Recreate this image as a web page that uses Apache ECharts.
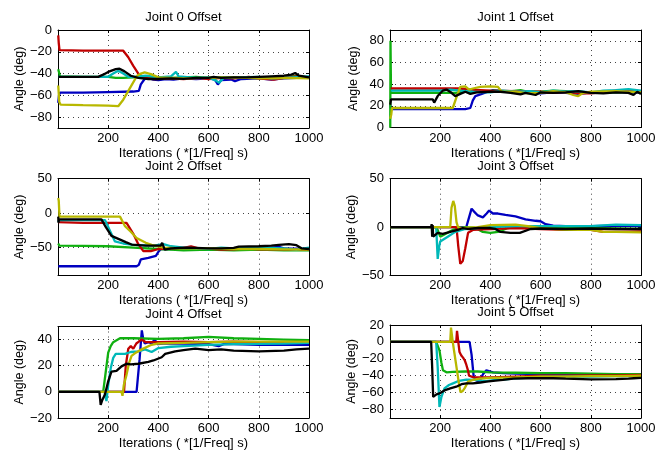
<!DOCTYPE html>
<html>
<head>
<meta charset="utf-8">
<script src="https://cdn.jsdelivr.net/npm/echarts@6/dist/echarts.min.js"></script>
<style>
html, body { margin: 0; padding: 0; background: #fff; }
#chart { width: 665px; height: 451px; }
</style>
</head>
<body>
<div id="chart"></div>
<script>
// joint offsets, [iteration, angle in deg]
const J0_BLUE = [[1,-67],[4,-60],[8,-57.5],[100,-57.5],[200,-57],[300,-56.5],[322,-56],[330,-50],[345,-45],[360,-44],[380,-45.5],[400,-46],[430,-45],[460,-45.5],[500,-44.5],[550,-45],[600,-44.5],[625,-45.5],[637,-50],[650,-46],[690,-45.5],[705,-47],[730,-45],[800,-44.5],[850,-45.5],[900,-44.5],[950,-44],[1000,-43]];
const J0_GREEN = [[1,-36],[4,-36],[8,-42.5],[100,-43],[200,-43],[230,-44],[260,-44],[300,-43.5],[350,-43],[400,-43.5],[450,-44],[500,-43.5],[550,-43],[600,-44],[650,-43.5],[700,-43.5],[750,-44],[800,-44],[850,-43],[900,-44],[950,-42],[1000,-43.5]];
const J0_RED = [[1,-5],[3,-12],[6,-18.5],[100,-19],[260,-19],[280,-25],[300,-33],[320,-40],[340,-43.5],[380,-45],[450,-44.5],[500,-45],[560,-44],[600,-45],[650,-44],[700,-44.5],[760,-43],[800,-44.5],[860,-45.5],[900,-44],[950,-42.5],[1000,-44]];
const J0_CYAN = [[1,-43],[200,-43],[220,-40],[240,-37.5],[260,-40],[280,-43],[300,-43],[350,-42],[400,-43.5],[450,-42.5],[470,-38.5],[480,-42.5],[550,-44],[600,-43.5],[630,-46.5],[642,-48.5],[660,-44],[700,-43.5],[800,-43],[850,-44.5],[900,-44],[1000,-42.5]];
const J0_YELLOW = [[1,-51],[5,-66],[10,-68.5],[100,-69],[200,-69.5],[240,-70],[260,-64],[290,-52],[315,-42],[330,-40],[345,-39],[370,-40.5],[400,-43.5],[450,-44],[500,-44.5],[600,-44],[700,-43.5],[800,-44.5],[900,-44],[1000,-44.5]];
const J0_BLACK = [[1,-43],[160,-43],[180,-41],[200,-38.5],[230,-36],[245,-35.5],[265,-38],[290,-42],[320,-44],[360,-45],[400,-45],[450,-44.5],[500,-44.8],[550,-44],[600,-44],[620,-43],[650,-44],[700,-43.5],[750,-43.5],[800,-43],[850,-42.5],[900,-42],[930,-41],[945,-39.5],[960,-42],[1000,-43.5]];

const J1_BLUE = [[1,21],[4,17],[100,17],[200,17],[300,17],[320,18],[330,25],[340,29],[360,30.5],[390,33],[410,34.5],[450,33.5],[500,32.5],[600,31.5],[650,32.5],[700,32],[750,31],[800,32.5],[900,33],[1000,32]];
const J1_GREEN = [[1,0],[2,80],[3,80],[4,32],[100,32],[200,32],[260,32],[300,33],[350,33],[420,34],[470,33],[520,34.5],[550,33],[600,33],[650,34],[700,33.5],[800,32],[900,32.5],[1000,33]];
const J1_RED = [[3,36],[100,36],[200,36],[280,36],[320,35],[400,34],[500,33.5],[600,33],[650,32],[700,33],[760,31.5],[800,31.5],[900,34],[950,34.5],[1000,33]];
const J1_CYAN = [[3,34],[100,34],[200,34],[240,35],[280,34],[330,33],[400,32.5],[450,34],[500,33],[560,33.5],[600,32.5],[650,34],[700,33],[750,33.5],[800,32.5],[850,34],[900,34.5],[950,35.5],[1000,34]];
const J1_YELLOW = [[1,8],[5,12],[8,18],[100,18],[200,18],[250,18],[265,28],[280,37.5],[300,38],[315,35],[330,36],[360,37.5],[400,38],[430,37.5],[445,33],[500,33],[550,31.5],[600,32],[650,33.5],[700,32.5],[730,30],[750,29],[770,32],[800,33],[900,33.5],[1000,32.5]];
const J1_BLACK = [[1,21],[4,26],[100,26],[170,26],[176,23],[190,29],[210,34],[225,35],[245,32],[260,29],[280,31],[300,33],[320,31],[345,32.5],[400,33],[440,33],[480,32],[520,30.5],[540,32],[580,30],[600,32.5],[650,32],[700,32.5],[750,33.5],[800,32],[850,31.5],[900,32.5],[950,32],[970,30],[985,33],[1000,31]];

const J2_BLUE = [[1,-77],[100,-77],[200,-77],[313,-77],[322,-75],[330,-67],[360,-65],[390,-62],[400,-56],[410,-52],[450,-52],[500,-51],[600,-52],[700,-51],[800,-52],[850,-50],[880,-49],[900,-51],[1000,-52]];
const J2_GREEN = [[1,-44],[5,-47],[100,-47.5],[200,-48],[300,-50],[400,-52],[450,-53],[500,-54],[600,-53],[700,-54],[800,-53],[900,-54],[1000,-54]];
const J2_RED = [[1,-13],[5,-14],[100,-14],[200,-14],[273,-14],[300,-30],[320,-45],[340,-55],[370,-55],[400,-52],[450,-51],[500,-50.5],[530,-48],[560,-51],[600,-51.5],[650,-53],[700,-52.5],[750,-51],[800,-52.5],[900,-52],[1000,-53]];
const J2_CYAN = [[1,-13],[4,-10],[187,-10],[200,-20],[227,-41],[260,-44],[300,-46],[380,-47],[420,-45],[450,-48],[500,-50],[600,-52],[650,-50],[700,-51],[800,-50],[900,-51],[950,-53],[1000,-50]];
const J2_YELLOW = [[1,22],[3,18],[6,-5],[100,-5],[247,-5],[267,-19],[290,-27],[313,-36],[350,-43],[373,-46],[420,-50],[500,-51],[600,-51],[700,-52],[800,-52],[900,-52.5],[1000,-53]];
const J2_BLACK = [[1,-5],[2,-14],[4,-9],[100,-9],[173,-9],[190,-20],[213,-33],[245,-38],[270,-42],[293,-45.5],[350,-47],[387,-47],[410,-47],[415,-43],[425,-53],[450,-51],[500,-50],[550,-50.5],[600,-51],[650,-51],[700,-50.5],[720,-48.5],[800,-48],[850,-47],[880,-46],[920,-45],[950,-46.5],[970,-51],[1000,-52]];

const J3_BLUE = [[1,0],[100,0],[200,0],[304,0],[315,10],[325,19],[335,16],[350,12],[370,10],[385,14],[395,17],[410,14],[430,14],[460,12.5],[500,11],[540,8],[580,6.5],[600,6],[620,3],[650,1.5],[700,1],[800,1],[900,1.5],[1000,1]];
const J3_GREEN = [[1,0],[180,0],[190,-3],[200,-10],[215,-8],[235,-5],[250,-3],[280,-1],[300,0],[340,-1],[370,-5],[400,-6],[430,-5],[470,-1],[500,0],[600,0],[700,-1],[800,-1],[900,-1.5],[1000,-2]];
const J3_RED = [[1,0],[200,0],[265,0],[272,-20],[280,-38],[290,-35],[300,-22],[311,-6],[330,-3],[400,-2],[500,-1],[600,-2],[700,-3],[800,-3],[850,-5],[900,-5],[1000,-4.5]];
const J3_CYAN = [[1,0],[184,0],[190,-33],[196,-20],[200,-15],[230,-10],[260,-5],[300,-2],[400,0],[500,1],[600,1],[700,1],[800,1],[900,2.5],[1000,2]];
const J3_YELLOW = [[1,0],[240,0],[245,20],[252,27],[258,22],[265,5],[271,0],[290,-1],[350,0],[400,2],[500,2.5],[550,1],[600,-1],[700,-3],[800,-3],[850,-5],[900,-5],[1000,-5.5]];
const J3_BLACK = [[1,0],[164,0],[166,3],[168,-10],[170,2],[172,-10],[176,-8],[190,-6],[210,-7],[240,-5],[270,-3],[290,-1],[310,-2],[350,-1],[400,-1],[420,-2],[440,-5],[480,-6],[517,-6],[560,-2],[600,-1.5],[700,-2],[800,-1.5],[900,-2],[1000,-2]];

const J4_BLUE = [[1,0],[100,0],[200,0],[313,0],[325,25],[334,47],[340,40],[346,37],[360,38],[375,37],[385,40.5],[395,36.5],[420,37],[500,37],[600,36.5],[640,35],[660,36.5],[700,36.5],[800,36],[900,36],[1000,36]];
const J4_GREEN = [[1,0],[180,0],[190,15],[200,30],[210,35],[220,38],[247,41],[300,41],[400,40.5],[500,41],[600,42],[700,41],[800,40.5],[900,40],[1000,39.5]];
const J4_RED = [[1,0],[263,0],[270,20],[280,33],[290,35],[300,33],[312,37],[322,38.5],[333,40],[350,38],[400,38],[500,38.5],[600,38],[700,38.5],[800,38],[900,38],[1000,38]];
const J4_CYAN = [[1,0],[185,0],[193,-7],[200,5],[210,18],[220,26],[230,29],[267,29],[290,30.5],[320,31],[347,32.5],[373,30.5],[400,33.5],[450,34.5],[500,35],[600,36],[700,36.5],[800,36.7],[900,37],[1000,37.5]];
const J4_YELLOW = [[1,0],[253,0],[257,-3],[262,5],[273,13],[283,22],[293,27.5],[310,30],[333,32.5],[373,36],[400,37],[500,37.5],[600,38],[700,38.5],[800,38.5],[900,38.5],[1000,38.5]];
const J4_BLACK = [[1,0],[165,0],[170,-10],[177,-6],[187,-2],[200,8],[213,15.5],[233,16],[253,19.5],[273,21.5],[290,21],[320,21.5],[360,23],[380,24],[413,26.5],[427,29],[467,31],[500,32],[547,33],[600,32],[650,32.5],[700,31.5],[800,31],[900,31.5],[950,32.5],[1000,33]];

const J5_BLUE = [[1,0],[100,0],[200,0],[317,0],[325,-15],[333,-40],[340,-45],[355,-47],[371,-38],[384,-33.5],[400,-35],[411,-36],[450,-37],[500,-37.5],[600,-38],[700,-38.5],[800,-38.5],[900,-39],[1000,-39]];
const J5_GREEN = [[1,0],[184,0],[190,-2],[197,-10],[205,-25],[211,-33.5],[225,-36],[250,-35.5],[300,-35],[350,-35],[400,-36],[500,-36.5],[600,-37],[700,-37],[800,-37.5],[900,-38],[1000,-38]];
const J5_RED = [[1,0],[264,0],[267,13],[272,0],[277,-12],[284,-16],[291,-18.6],[298,-22],[304,-27],[310,-33],[315,-40],[331,-41.7],[350,-42],[400,-42],[500,-41],[600,-40],[700,-40],[800,-39.5],[900,-39.5],[1000,-39]];
const J5_CYAN = [[1,0],[184,0],[190,-30],[197,-77],[205,-65],[217,-55],[235,-51],[251,-49],[275,-46],[304,-44.5],[340,-45],[384,-46.5],[420,-45],[451,-44.5],[500,-43],[600,-41.5],[700,-41],[800,-41],[900,-40.5],[1000,-40.5]];
const J5_YELLOW = [[1,0],[240,0],[243,17],[250,0],[257,-14],[267,-34],[275,-50],[281,-59.5],[290,-58],[297,-55],[311,-47],[330,-45],[357,-43.5],[400,-42.5],[500,-42],[600,-41],[700,-41],[800,-40.5],[900,-40.5],[1000,-40]];
const J5_BLACK = [[1,0],[164,0],[168,-30],[172,-65],[185,-62],[197,-61],[220,-57],[240,-55],[264,-53],[285,-50],[304,-49],[330,-49],[360,-48],[384,-47],[411,-46],[450,-45],[491,-43.5],[550,-43],[600,-43],[650,-43],[700,-43.5],[800,-44.3],[900,-44],[950,-43.5],[971,-43],[1000,-42.5]];

const TITLES = ['Joint 0 Offset', 'Joint 1 Offset', 'Joint 2 Offset', 'Joint 3 Offset', 'Joint 4 Offset', 'Joint 5 Offset'];
const Y_MIN = [-90, 0, -90, -50, -20, -90];
const Y_MAX = [0, 90, 50, 50, 50, 20];
const Y_TICKS = [
  [-80, -60, -40, -20, 0],
  [0, 20, 40, 60, 80],
  [-50, 0, 50],
  [-50, 0, 50],
  [-20, 0, 20, 40],
  [-80, -60, -40, -20, 0, 20]
];
const X_TICKS = [200, 400, 600, 800, 1000];
const X_NAME = 'Iterations ( *[1/Freq] s)';
const Y_NAME = 'Angle (deg)';

const JOINTS = [
  [J0_BLUE, J0_GREEN, J0_RED, J0_CYAN, J0_YELLOW, J0_BLACK],
  [J1_BLUE, J1_GREEN, J1_RED, J1_CYAN, J1_YELLOW, J1_BLACK],
  [J2_BLUE, J2_GREEN, J2_RED, J2_CYAN, J2_YELLOW, J2_BLACK],
  [J3_BLUE, J3_GREEN, J3_RED, J3_CYAN, J3_YELLOW, J3_BLACK],
  [J4_BLUE, J4_GREEN, J4_RED, J4_CYAN, J4_YELLOW, J4_BLACK],
  [J5_BLUE, J5_GREEN, J5_RED, J5_CYAN, J5_YELLOW, J5_BLACK]
];
const COLORS = ['#0000c0', '#10b010', '#c00000', '#00b8b8', '#b8b800', '#000000'];

const FONT = '"Liberation Sans", Arial, Helvetica, sans-serif';
const grids = [
  { left: 58, top: 30, width: 251, height: 98 },
  { left: 390, top: 30, width: 251, height: 97.5 },
  { left: 58, top: 178.7, width: 251, height: 96.5 },
  { left: 390, top: 178.7, width: 251, height: 96.7 },
  { left: 58, top: 326.5, width: 251, height: 98 },
  { left: 390, top: 325, width: 251, height: 100 }
];

const minus = v => String(v).replace('-', '\u2212');
const dotted = { show: true, lineStyle: { color: '#444', width: 1, type: [1, 4] } };
const line = { show: true, onZero: false, lineStyle: { color: '#000', width: 1 } };

const xAxis = [], yAxis = [], series = [], title = [];
grids.forEach((g, i) => {
  xAxis.push({
    gridIndex: i, type: 'value', position: 'bottom', min: 0, max: 1000,
    axisLine: line,
    axisTick: { inside: true, length: 3, customValues: X_TICKS, lineStyle: { color: '#000' } },
    axisLabel: { customValues: X_TICKS, formatter: v => String(v), color: '#000', fontSize: 13, fontFamily: FONT, margin: 4 },
    splitLine: dotted,
    name: X_NAME, nameLocation: 'middle', nameGap: 19,
    nameTextStyle: { color: '#000', fontSize: 13, fontFamily: FONT }
  });
  xAxis.push({
    gridIndex: i, type: 'value', position: 'top', min: 0, max: 1000,
    axisLine: line,
    axisTick: { inside: true, length: 3, customValues: X_TICKS, lineStyle: { color: '#000' } },
    axisLabel: { show: false }, splitLine: { show: false }
  });
  yAxis.push({
    gridIndex: i, type: 'value', position: 'left', min: Y_MIN[i], max: Y_MAX[i],
    axisLine: line,
    axisTick: { inside: true, length: 3, customValues: Y_TICKS[i], lineStyle: { color: '#000' } },
    axisLabel: { customValues: Y_TICKS[i], formatter: minus, color: '#000', fontSize: 13, fontFamily: FONT, margin: 6 },
    splitLine: dotted,
    name: Y_NAME, nameLocation: 'middle', nameGap: 30, nameRotate: 90,
    nameTextStyle: { color: '#000', fontSize: 12.5, fontFamily: FONT }
  });
  yAxis.push({
    gridIndex: i, type: 'value', position: 'right', min: Y_MIN[i], max: Y_MAX[i],
    axisLine: line,
    axisTick: { inside: true, length: 3, customValues: Y_TICKS[i], lineStyle: { color: '#000' } },
    axisLabel: { show: false }, splitLine: { show: false }
  });
  title.push({
    text: TITLES[i], left: g.left + g.width / 2, top: g.top - 19, textAlign: 'center', padding: 0,
    textStyle: { color: '#000', fontSize: 13, fontWeight: 'normal', fontFamily: FONT }
  });
  JOINTS[i].forEach((d, k) => {
    series.push({
      type: 'line', xAxisIndex: 2 * i, yAxisIndex: 2 * i, data: d,
      showSymbol: false, symbol: 'none', clip: true,
      lineStyle: { color: COLORS[k], width: 2.3 },
      itemStyle: { color: COLORS[k] }
    });
  });
});

const chart = echarts.init(document.getElementById('chart'), null, { renderer: 'canvas' });
chart.setOption({
  backgroundColor: '#ffffff',
  animation: false,
  title,
  grid: grids,
  xAxis,
  yAxis,
  series
});
</script>
</body>
</html>
